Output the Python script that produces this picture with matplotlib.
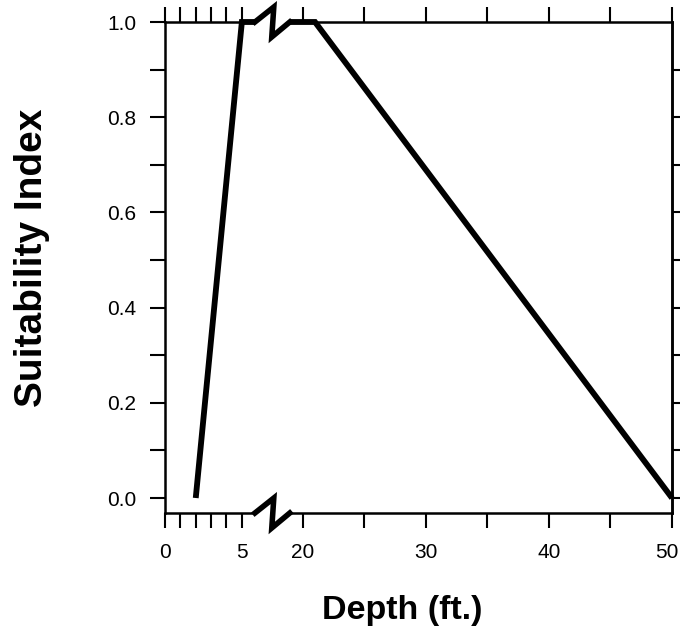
import numpy as np
import matplotlib
matplotlib.use("Agg")
import matplotlib.pyplot as plt
from matplotlib.lines import Line2D
from matplotlib.transforms import ScaledTranslation

plt.rcParams['font.family'] = ['Liberation Sans', 'DejaVu Sans']

# Habitat suitability curve for depth, drawn on a broken depth axis
depth_shallow = [2, 5, 5.85]
si_shallow = [0.0, 1.0, 1.0]
depth_deep = [18.95, 21, 50]
si_deep = [1.0, 1.0, 0.0]

x_ticks = [0, 1, 2, 3, 4, 5, 20, 25, 30, 35, 40, 45, 50]
x_tick_labels = ['0', '', '', '', '', '5', '20', '', '30', '', '40', '', '50']
y_ticks = [0.0, 0.1, 0.2, 0.3, 0.4, 0.5, 0.6, 0.7, 0.8, 0.9, 1.0]
y_tick_labels = ['0.0', '', '0.2', '', '0.4', '', '0.6', '', '0.8', '', '1.0']
y_right_ticks = [0.0, 0.1, 0.2, 0.3, 0.4, 0.5, 0.6, 0.7, 0.8, 0.9]

# piecewise-linear axis: 0-6 ft stretched, gap compressed, 19-50 ft regular
brk_x = [0.0, 6.0, 18.95, 50.0]
brk_u = [0.0, 92.4, 125.0, 507.9]


def fwd(x):
    return np.interp(x, brk_x, brk_u, left=-1e3, right=1e4)


def inv(u):
    return np.interp(u, brk_u, brk_x, left=-100, right=200)


fig = plt.figure(figsize=(6.81, 6.32), dpi=100)
ax = fig.add_axes([165 / 681, 119 / 632, 507 / 681, 491 / 632])
ax.set_xscale('function', functions=(fwd, inv))
ax.set_xlim(0, 50)
ax.set_ylim(-0.0315, 1.0)

lw_curve = 4.2
ax.plot(depth_shallow, si_shallow, color='black', lw=lw_curve,
        solid_joinstyle='miter', solid_capstyle='butt', clip_on=False, zorder=3)
ax.plot(depth_deep, si_deep, color='black', lw=lw_curve,
        solid_joinstyle='miter', solid_capstyle='butt', clip_on=False, zorder=3)

# frame: left/right spines kept, top/bottom drawn around the break
for side in ('top', 'bottom'):
    ax.spines[side].set_visible(False)
for side in ('left', 'right'):
    ax.spines[side].set_linewidth(1.8)

gap_l, gap_r = 0.1774, 0.2461
for yy in (0.0, 1.0):
    for xs in ((0.0, gap_l), (gap_r, 1.0)):
        ax.add_line(Line2D(xs, [yy, yy], transform=ax.transAxes, color='black',
                           lw=1.8, clip_on=False, zorder=2))

# zigzag break marks on both horizontal edges
zz_x = [gap_l, 0.2146, 0.2106, gap_r]
dz = 0.0305
for yy in (0.0, 1.0):
    zz_y = [yy, yy + dz, yy - dz, yy]
    ax.add_line(Line2D(zz_x, zz_y, transform=ax.transAxes, color='black',
                       lw=4.0, solid_joinstyle='miter', clip_on=False, zorder=4))

ax.set_xticks(x_ticks, x_tick_labels)
ax.set_yticks(y_ticks, y_tick_labels)
ax.xaxis.set_minor_locator(matplotlib.ticker.NullLocator())
ax.yaxis.set_minor_locator(matplotlib.ticker.NullLocator())
ax.tick_params(axis='x', which='major', direction='out', length=10.5, width=1.5,
               top=True, labelsize=15, pad=11)
ax.tick_params(axis='y', which='major', direction='out', length=10.5, width=1.5,
               labelsize=15, pad=10)

# keep the last depth label inside the figure edge
last = ax.get_xticklabels()[-1]
last.set_transform(last.get_transform() + ScaledTranslation(-5 / 100, 0, fig.dpi_scale_trans))

sec = ax.secondary_yaxis('right')
sec.set_yticks(y_right_ticks)
sec.tick_params(direction='out', length=6, width=1.5, labelright=False)
sec.spines['right'].set_linewidth(1.8)

fig.text(402 / 681, 1 - 610 / 632, 'Depth (ft.)', ha='center', va='center',
         fontsize=24.5, fontweight='bold')
fig.text(32 / 681, 1 - 258 / 632, 'Suitability Index', ha='center', va='center',
         rotation=90, fontsize=28, fontweight='bold')

fig.savefig('out.png', dpi=100)
